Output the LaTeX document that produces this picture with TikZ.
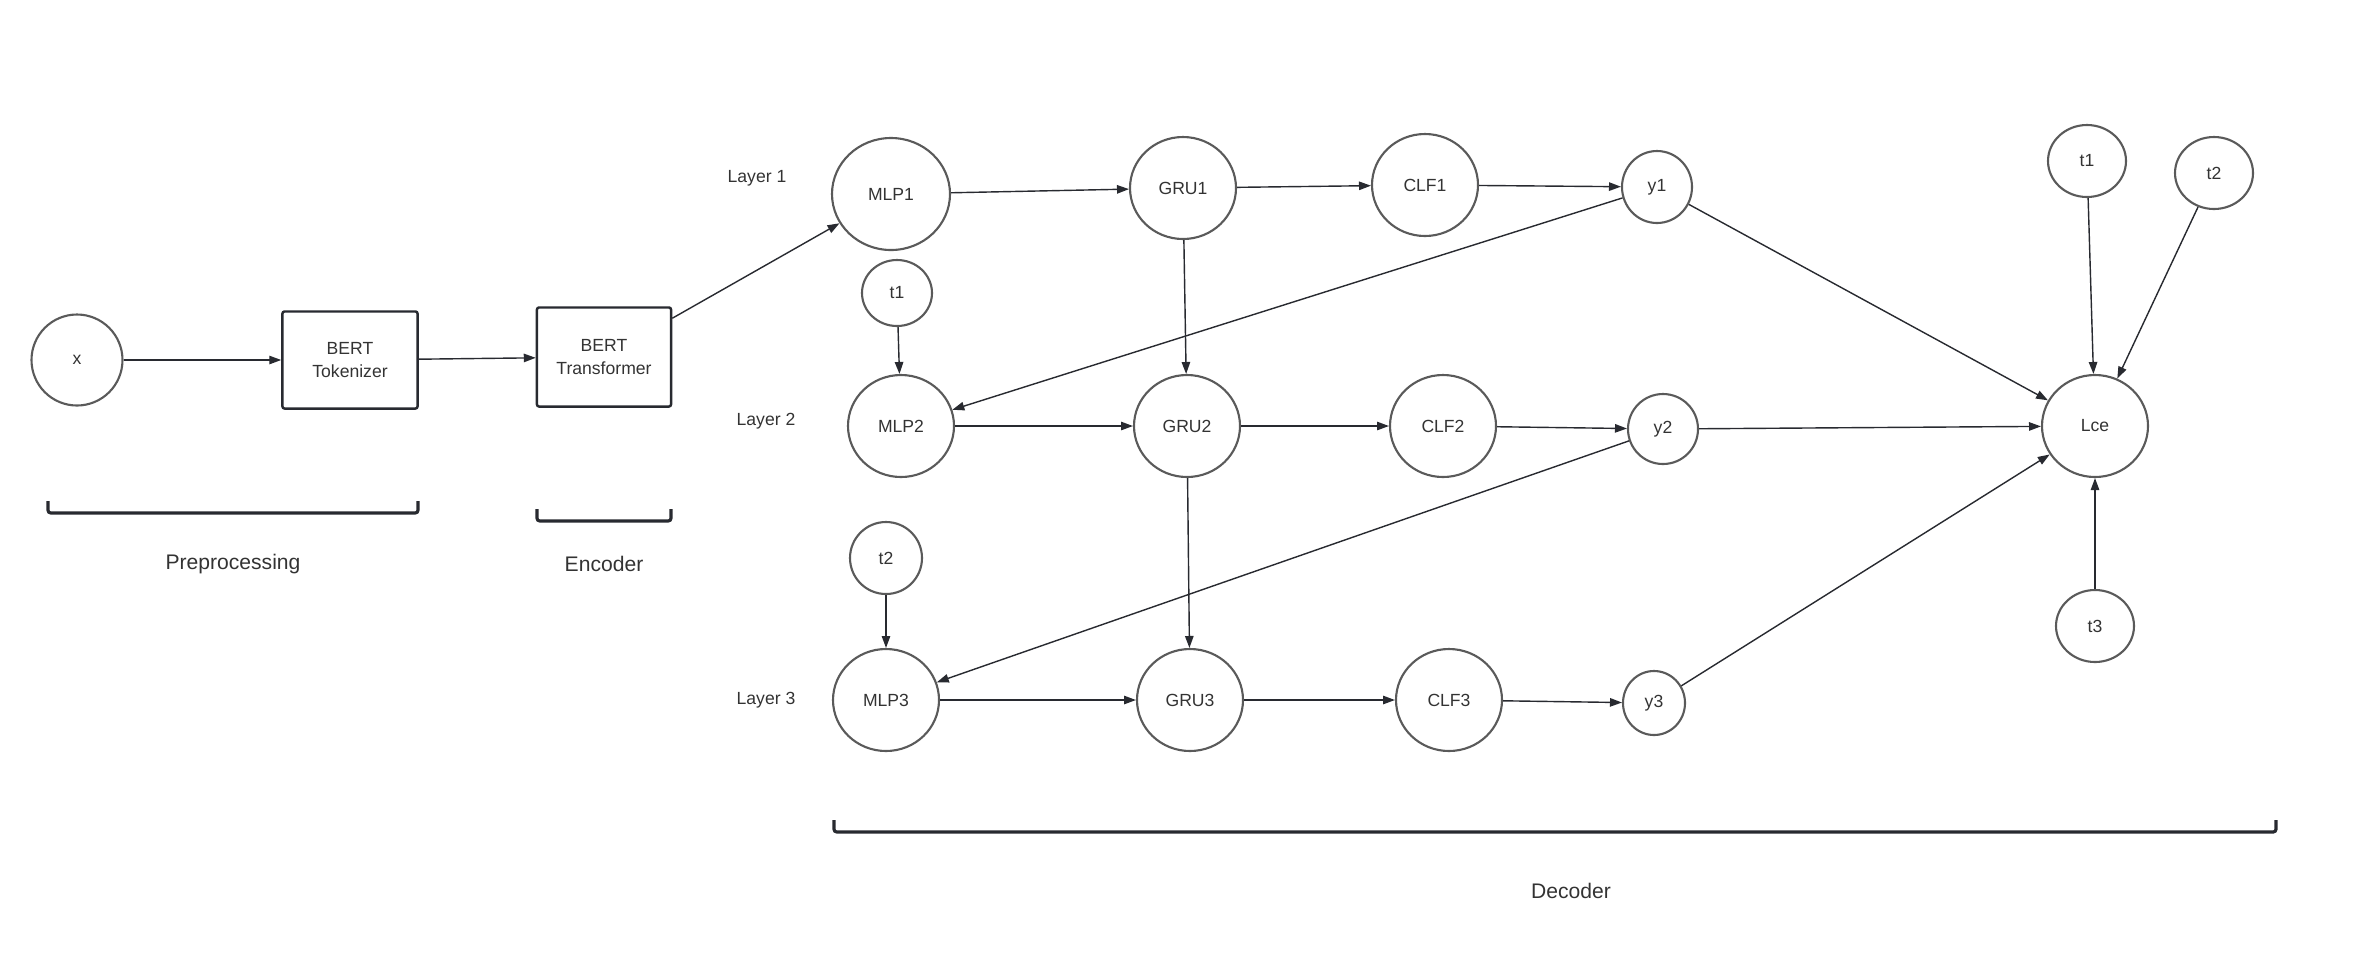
\documentclass[tikz,border=0pt]{standalone}
\usepackage{fontspec}
\setmainfont{Liberation Sans}
\usetikzlibrary{arrows.meta,shapes.geometric}
\definecolor{outl}{HTML}{5A5A5A}
\definecolor{arr}{HTML}{282A30}
\definecolor{txt}{HTML}{333333}
\begin{document}
\begin{tikzpicture}[x=0.01cm,y=-0.01cm,
  el/.style 2 args={ellipse,draw=outl,line width=0.6pt,inner sep=0pt,
     minimum width=#1*0.01cm,minimum height=#2*0.01cm,
     font=\fontsize{5pt}{6.4pt}\selectfont,text=txt},
  boxn/.style={rectangle,draw=arr,line width=0.7pt,rounded corners=0.6pt,
     minimum width=1.35cm,minimum height=0.97cm,inner sep=0pt,align=center,
     font=\fontsize{5pt}{6.4pt}\selectfont,text=txt},
  lbl/.style={font=\fontsize{5pt}{6pt}\selectfont,text=txt,inner sep=0pt},
  grp/.style={font=\fontsize{6pt}{7pt}\selectfont,text=txt,inner sep=0pt},
  conn/.style={draw=arr,line width=0.4pt,-{Triangle[length=3.4pt,width=2.4pt]}},
  brk/.style={draw=arr,line width=0.9pt,rounded corners=0.8pt}]
\useasboundingbox (0,0) rectangle (2360,966);
% preprocessing / encoder
\node[el={91}{91}] (x) at (77,360) {x};
\node[boxn] (tok) at (350,360) {BERT\\Tokenizer};
\node[boxn,minimum height=0.99cm,minimum width=1.34cm] (tra) at (604,357) {BERT\\Transformer};
% layer labels
\node[lbl] (l1) at (757,178) {Layer 1};
\node[lbl] (l2) at (766,421) {Layer 2};
\node[lbl] (l3) at (766,700) {Layer 3};
% layer 1
\node[el={118}{112}] (mlp1) at (891,194) {MLP1};
\node[el={106}{102}] (gru1) at (1183,188) {GRU1};
\node[el={106}{102}] (clf1) at (1425,185) {CLF1};
\node[el={70}{72}] (y1) at (1657,187) {y1};
\node[el={70}{66}] (t1a) at (897,293) {t1};
% layer 2
\node[el={106}{102}] (mlp2) at (901,426) {MLP2};
\node[el={106}{102}] (gru2) at (1187,426) {GRU2};
\node[el={106}{102}] (clf2) at (1443,426) {CLF2};
\node[el={70}{70}] (y2) at (1663,429) {y2};
\node[el={72}{72}] (t2a) at (886,558) {t2};
% layer 3
\node[el={106}{102}] (mlp3) at (886,700) {MLP3};
\node[el={106}{102}] (gru3) at (1190,700) {GRU3};
\node[el={106}{102}] (clf3) at (1449,700) {CLF3};
\node[el={62}{64}] (y3) at (1654,703) {y3};
% loss
\node[el={106}{102}] (lce) at (2095,426) {Lce};
\node[el={78}{72}] (t1b) at (2087,161) {t1};
\node[el={78}{72}] (t2b) at (2214,173) {t2};
\node[el={78}{72}] (t3b) at (2095,626) {t3};
% group labels
\node[grp] (gpre) at (233,564) {Preprocessing};
\node[grp] (genc) at (604,564) {Encoder};
\node[grp] (gdec) at (1571,891) {Decoder};
% brackets
\draw[brk] (48,501) -- (48,513) -- (418,513) -- (418,501);
\draw[brk] (537,509) -- (537,521) -- (671,521) -- (671,509);
\draw[brk] (834,820) -- (834,832) -- (2276,832) -- (2276,820);
% connectors
\draw[conn] (x) -- (tok);
\draw[conn] (tok) -- (tra);
\draw[conn] (tra) -- (mlp1);
\draw[conn] (mlp1) -- (gru1);
\draw[conn] (gru1) -- (clf1);
\draw[conn] (clf1) -- (y1);
\draw[conn] (t1a) -- (mlp2);
\draw[conn] (y1) -- (mlp2);
\draw[conn] (gru1) -- (gru2);
\draw[conn] (mlp2) -- (gru2);
\draw[conn] (gru2) -- (clf2);
\draw[conn] (clf2) -- (y2);
\draw[conn] (t2a) -- (mlp3);
\draw[conn] (y2) -- (mlp3);
\draw[conn] (gru2) -- (gru3);
\draw[conn] (mlp3) -- (gru3);
\draw[conn] (gru3) -- (clf3);
\draw[conn] (clf3) -- (y3);
\draw[conn] (y1) -- (lce);
\draw[conn] (y2) -- (lce);
\draw[conn] (y3) -- (lce);
\draw[conn] (t1b) -- (lce);
\draw[conn] (t2b) -- (lce);
\draw[conn] (t3b) -- (lce);
\end{tikzpicture}
\end{document}
